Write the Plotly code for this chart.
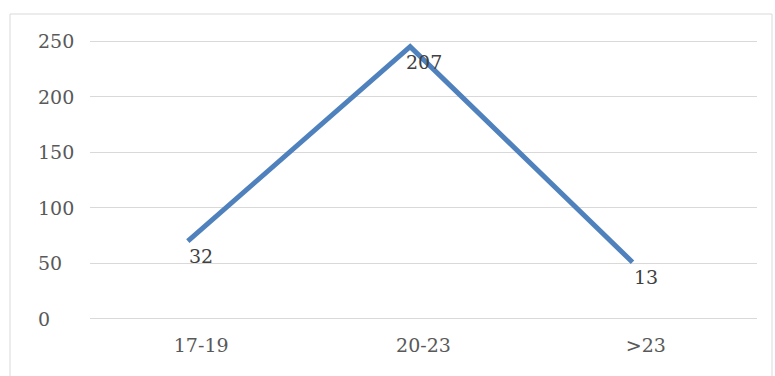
import plotly.graph_objects as go

categories = ["17-19", "20-23", ">23"]
line_values = [70, 245, 51]
label_texts = ["32", "207", "13"]
y_ticks = [0, 50, 100, 150, 200, 250]

FONT = "DejaVu Serif"
FS = 19
W, H = 775, 376
L, R, T, B = 90, 18, 40, 56
PW, PH = W - L - R, H - T - B

fig = go.Figure()

# line on a slightly shifted overlay axis (line points sit a bit left of category centers)
fig.add_trace(go.Scatter(
    x=categories, y=line_values, mode="lines",
    line=dict(color="#4f81bd", width=5),
    xaxis="x2", hoverinfo="skip", showlegend=False,
))

# y tick labels, left aligned
annotations = [
    dict(x=(36 - L) / PW, xref="paper", xanchor="left", y=v, yref="y", yanchor="middle",
         text=str(v), showarrow=False,
         font=dict(family=FONT, size=FS, color="#595959"))
    for v in y_ticks
]
# data labels centered on categories, below the line values
annotations += [
    dict(x=c, xref="x", y=v, yref="y", yanchor="top", xanchor="center",
         yshift=-2, text=t, showarrow=False,
         font=dict(family=FONT, size=FS, color="#404040"))
    for c, v, t in zip(categories, line_values, label_texts)
]

fig.update_layout(
    width=W, height=H,
    margin=dict(l=L, r=R, t=T, b=B),
    paper_bgcolor="white", plot_bgcolor="white",
    showlegend=False,
    xaxis=dict(
        type="category", range=[-0.5, 2.5], categoryarray=categories,
        showgrid=False, zeroline=False, showline=False,
        tickfont=dict(family=FONT, size=FS, color="#595959"),
        ticks="", ticklabelstandoff=12,
    ),
    xaxis2=dict(
        type="category", overlaying="x", range=[-0.44, 2.56],
        visible=False,
    ),
    yaxis=dict(
        range=[-1, 251], tickvals=y_ticks, showticklabels=False,
        showgrid=True, gridcolor="#d9d9d9", gridwidth=1,
        zeroline=False, showline=False, ticks="",
    ),
    annotations=annotations,
    shapes=[dict(type="rect", xref="paper", yref="paper",
                 x0=(10 - L) / PW,
                 x1=(772 - L) / PW,
                 y0=-(B + 20) / PH,
                 y1=1 + (T - 14) / PH,
                 line=dict(color="#d9d9d9", width=1), layer="below")],
)

fig.write_html("out.html")
